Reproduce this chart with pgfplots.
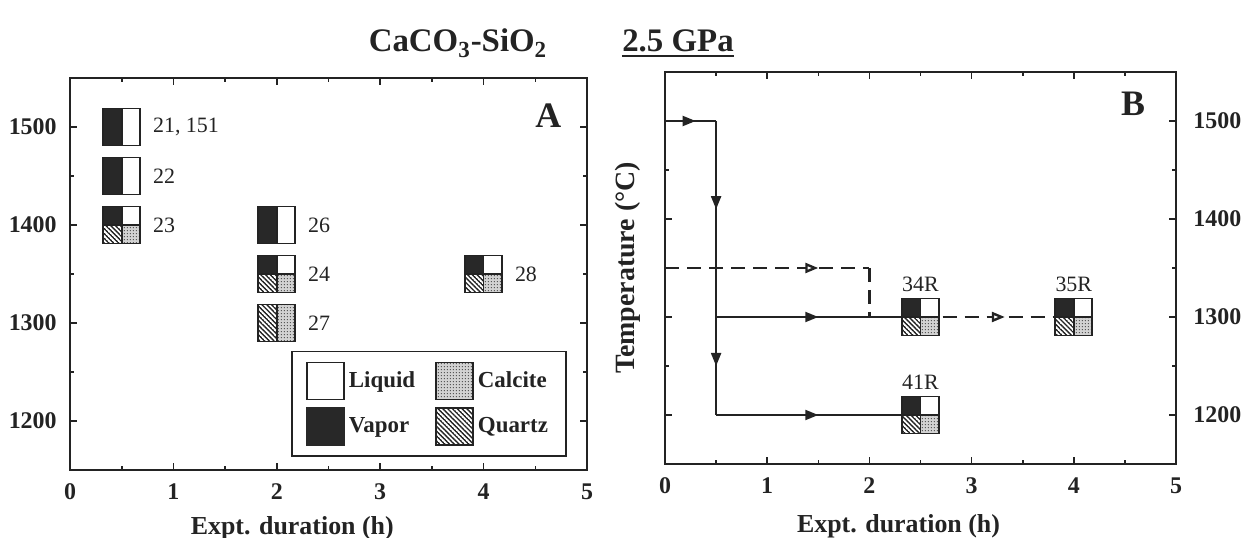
\documentclass[border=0pt]{standalone}
\usepackage{fontspec}
\setmainfont{Liberation Serif}
\usepackage{pgfplots}
\pgfplotsset{compat=1.18}
\usetikzlibrary{patterns.meta,arrows.meta,decorations.markings}

\definecolor{ink}{RGB}{35,35,35}
\definecolor{vapor}{RGB}{40,40,40}
\definecolor{calc}{RGB}{210,210,210}

% quartz: "\" hatching, calcite: fine stipple
\tikzdeclarepattern{
  name=quartzhatch,
  type=uncolored,
  bounding box={(0,-0.35bp) and (1.7bp,0.35bp)},
  tile size={(1.7bp,1.7bp)},
  tile transformation={rotate=-45},
  code={\draw[line width=0.75bp] (-0.1bp,0) -- (1.8bp,0);}
}
\tikzdeclarepattern{
  name=stipple,
  type=uncolored,
  bounding box={(0,0) and (1.4bp,1.4bp)},
  tile size={(1.4bp,1.4bp)},
  code={\fill (0.7bp,0.7bp) circle (0.33bp);}
}

\newcommand\bx{9.25bp}
\newcommand\qzfill[4]{%
  \pgfsetfillcolor{white}%
  \pgfpathrectanglecorners{\pgfpoint{#1}{#2}}{\pgfpoint{#3}{#4}}\pgfusepath{fill}%
  \begin{pgfscope}\pgfsetfillpattern{quartzhatch}{ink}%
  \pgfpathrectanglecorners{\pgfpoint{#1}{#2}}{\pgfpoint{#3}{#4}}\pgfusepath{fill}\end{pgfscope}}
\newcommand\cafill[4]{%
  \pgfsetfillcolor{calc}%
  \pgfpathrectanglecorners{\pgfpoint{#1}{#2}}{\pgfpoint{#3}{#4}}\pgfusepath{fill}%
  \begin{pgfscope}\pgfsetfillpattern{stipple}{black!70}%
  \pgfpathrectanglecorners{\pgfpoint{#1}{#2}}{\pgfpoint{#3}{#4}}\pgfusepath{fill}\end{pgfscope}}

% vapor + liquid
\pgfdeclareplotmark{VL}{%
  \pgfsetfillcolor{vapor}%
  \pgfpathrectanglecorners{\pgfpoint{-\bx}{-\bx}}{\pgfpoint{0bp}{\bx}}\pgfusepath{fill}%
  \pgfsetfillcolor{white}%
  \pgfpathrectanglecorners{\pgfpoint{0bp}{-\bx}}{\pgfpoint{\bx}{\bx}}\pgfusepath{fill}%
  \pgfsetstrokecolor{ink}\pgfsetlinewidth{0.9bp}%
  \pgfpathrectanglecorners{\pgfpoint{-\bx}{-\bx}}{\pgfpoint{\bx}{\bx}}%
  \pgfpathmoveto{\pgfpoint{0bp}{-\bx}}\pgfpathlineto{\pgfpoint{0bp}{\bx}}%
  \pgfusepath{stroke}%
}
% vapor + liquid + quartz + calcite
\pgfdeclareplotmark{VLQC}{%
  \pgfsetfillcolor{vapor}%
  \pgfpathrectanglecorners{\pgfpoint{-\bx}{0bp}}{\pgfpoint{0bp}{\bx}}\pgfusepath{fill}%
  \pgfsetfillcolor{white}%
  \pgfpathrectanglecorners{\pgfpoint{0bp}{0bp}}{\pgfpoint{\bx}{\bx}}\pgfusepath{fill}%
  \qzfill{-\bx}{-\bx}{0bp}{0bp}%
  \cafill{0bp}{-\bx}{\bx}{0bp}%
  \pgfsetstrokecolor{ink}\pgfsetlinewidth{0.8bp}%
  \pgfpathmoveto{\pgfpoint{0bp}{-\bx}}\pgfpathlineto{\pgfpoint{0bp}{\bx}}%
  \pgfpathmoveto{\pgfpoint{-\bx}{0bp}}\pgfpathlineto{\pgfpoint{\bx}{0bp}}%
  \pgfusepath{stroke}%
  \pgfsetlinewidth{0.9bp}%
  \pgfpathrectanglecorners{\pgfpoint{-\bx}{-\bx}}{\pgfpoint{\bx}{\bx}}\pgfusepath{stroke}%
}
% quartz + calcite
\pgfdeclareplotmark{QC}{%
  \qzfill{-\bx}{-\bx}{0bp}{\bx}%
  \cafill{0bp}{-\bx}{\bx}{\bx}%
  \pgfsetstrokecolor{ink}\pgfsetlinewidth{0.9bp}%
  \pgfpathrectanglecorners{\pgfpoint{-\bx}{-\bx}}{\pgfpoint{\bx}{\bx}}%
  \pgfpathmoveto{\pgfpoint{0bp}{-\bx}}\pgfpathlineto{\pgfpoint{0bp}{\bx}}%
  \pgfusepath{stroke}%
}

\tikzset{
  lab/.style={anchor=west, xshift=15.5bp, inner sep=0pt, text=ink, font=\fontsize{11}{12}\selectfont},
  blab/.style={anchor=south, yshift=12.5bp, inner sep=0pt, text=ink, font=\fontsize{11}{12}\selectfont},
  sarrow/.style={decoration={markings, mark=at position #1 with {\arrow{Triangle[length=6.5bp,width=5bp]}}}, postaction={decorate}},
  oarrow/.style={decoration={markings, mark=at position #1 with {\arrow{Triangle[open,length=6.5bp,width=5bp,fill=white]}}}, postaction={decorate}},
}

\pgfplotsset{
  panel/.style={
    scale only axis, height=196bp,
    xmin=0, xmax=5, ymin=1150, ymax=1550,
    xtick={0,1,2,3,4,5}, ytick={1200,1300,1400,1500},
    minor x tick num=1, minor y tick num=1,
    tick align=inside, major tick length=3.5bp, minor tick length=2bp,
    tick style={line width=0.8bp, ink},
    axis line style={line width=1bp, ink},
    /pgf/number format/assume math mode=true,
    /pgf/number format/1000 sep={},
    ticklabel style={font=\fontsize{12}{13}\selectfont\bfseries, text=ink, inner sep=0pt},
    xticklabel style={yshift=-6.5bp},
    xlabel={Expt. duration (h)},
    label style={font=\fontsize{13}{14}\selectfont\bfseries, text=ink},
    clip=false,
  },
  sline/.style={ink, line width=1bp, forget plot},
  dline/.style={ink, line width=1.2bp, dash pattern=on 7bp off 4bp, forget plot},
}

\begin{document}
\begin{tikzpicture}
\useasboundingbox (0,0) rectangle (622bp,269bp);

\node[font=\fontsize{16.5}{18}\selectfont\bfseries, text=ink, anchor=base, inner sep=0pt]
  at (229bp,243bp) {CaCO\textsubscript{3}-SiO\textsubscript{2}};
\node[font=\fontsize{16.5}{18}\selectfont\bfseries, text=ink, anchor=base, inner sep=0pt]
  (gpa) at (339bp,243bp) {2.5 GPa};
\draw[ink, line width=1.1bp] ([yshift=-2.2bp]gpa.base west) -- ([yshift=-2.2bp]gpa.base east);

% ---- panel A
\begin{axis}[panel, at={(35bp,34bp)}, anchor=south west, width=258.5bp,
  yticklabel style={xshift=-6.5bp},
  xlabel style={at={(axis description cs:0.43,-0.148)}, anchor=center},
  legend columns=2,
  legend style={at={(rel axis cs:0.961,0.033)}, anchor=south east,
    draw=ink, line width=0.9bp, inner xsep=7bp, inner ysep=5bp,
    font=\fontsize{11.5}{12}\selectfont\bfseries, text=ink,
    cells={anchor=west}, row sep=3.5bp,
    /tikz/every even column/.append style={column sep=8bp}},
]
\addplot[only marks, mark=VL, forget plot] coordinates {(0.5,1500) (0.5,1450) (2,1400)};
\addplot[only marks, mark=VLQC, forget plot] coordinates {(0.5,1400) (2,1350) (4,1350)};
\addplot[only marks, mark=QC, forget plot] coordinates {(2,1300)};

\node[lab] at (axis cs:0.5,1500) {21, 151};
\node[lab] at (axis cs:0.5,1450) {22};
\node[lab] at (axis cs:0.5,1400) {23};
\node[lab] at (axis cs:2,1400) {26};
\node[lab] at (axis cs:2,1350) {24};
\node[lab] at (axis cs:4,1350) {28};
\node[lab] at (axis cs:2,1300) {27};
\node[font=\fontsize{18}{19}\selectfont\bfseries, text=ink] at (rel axis cs:0.925,0.905) {A};

\addlegendimage{legend image code/.code={\draw[line width=0.9bp, draw=ink, fill=white] (0bp,-9.25bp) rectangle (18.5bp,9.25bp);}}
\addlegendentry{Liquid}
\addlegendimage{legend image code/.code={\draw[line width=0.9bp, draw=ink, preaction={fill=calc}, pattern=stipple, pattern color=black!70] (0bp,-9.25bp) rectangle (18.5bp,9.25bp);}}
\addlegendentry{Calcite}
\addlegendimage{legend image code/.code={\draw[line width=0.9bp, draw=vapor, fill=vapor] (0bp,-9.25bp) rectangle (18.5bp,9.25bp);}}
\addlegendentry{Vapor}
\addlegendimage{legend image code/.code={\draw[line width=0.9bp, draw=ink, preaction={fill=white}, pattern=quartzhatch, pattern color=ink] (0bp,-9.25bp) rectangle (18.5bp,9.25bp);}}
\addlegendentry{Quartz}
\end{axis}

% ---- panel B
\begin{axis}[panel, at={(332.5bp,37bp)}, anchor=south west, width=255.5bp,
  yticklabel pos=right, yticklabel style={xshift=8.5bp},
  xlabel style={at={(axis description cs:0.457,-0.16)}, anchor=center},
  ylabel={Temperature (°C)},
  ylabel style={at={(axis description cs:-0.0724,0.5)}, anchor=center, font=\fontsize{14}{15}\selectfont\bfseries},
]
\addplot[sline, sarrow=0.6] coordinates {(0,1500) (0.5,1500)};
\addplot[sline, sarrow=0.45] coordinates {(0.5,1500) (0.5,1300)};
\addplot[sline, sarrow=0.5] coordinates {(0.5,1300) (0.5,1200)};
\addplot[sline, sarrow=0.5] coordinates {(0.5,1300) (2.5,1300)};
\addplot[sline, sarrow=0.5] coordinates {(0.5,1200) (2.5,1200)};
\addplot[dline, oarrow=0.75] coordinates {(0,1350) (2,1350)};
\addplot[dline] coordinates {(2,1350) (2,1300) (2.5,1300)};
\addplot[dline, oarrow=0.55] coordinates {(2.5,1300) (4,1300)};

\addplot[only marks, mark=VLQC, forget plot] coordinates {(2.5,1300) (4,1300) (2.5,1200)};

\node[blab] at (axis cs:2.5,1300) {34R};
\node[blab] at (axis cs:4,1300) {35R};
\node[blab] at (axis cs:2.5,1200) {41R};
\node[font=\fontsize{18}{19}\selectfont\bfseries, text=ink] at (rel axis cs:0.916,0.92) {B};
\end{axis}
\end{tikzpicture}
\end{document}
